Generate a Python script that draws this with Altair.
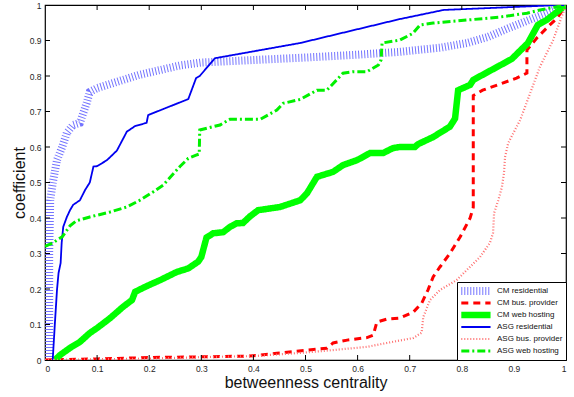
import altair as alt
import pandas as pd

# ---------------- data ----------------
series_names = ["CM residential", "CM bus. provider", "CM web hosting",
                "ASG residential", "ASG bus. provider", "ASG web hosting"]

cm_res_x = [0.008, 0.008, 0.010, 0.015, 0.023, 0.033, 0.042, 0.054, 0.067, 0.080, 0.086, 0.100,
            0.180, 0.260, 0.300, 0.400, 0.500, 0.600, 0.680, 0.760, 0.810, 0.850, 0.890, 0.950, 1.000]
cm_res_y = [0.000, 0.300, 0.450, 0.500, 0.563, 0.600, 0.640, 0.662, 0.668, 0.724, 0.755, 0.766,
            0.803, 0.830, 0.838, 0.845, 0.852, 0.860, 0.868, 0.880, 0.893, 0.910, 0.935, 0.970, 1.000]

cm_bus_x = [0.000, 0.100, 0.200, 0.300, 0.393, 0.445, 0.503, 0.541, 0.553, 0.580, 0.618, 0.630,
            0.637, 0.656, 0.681, 0.707, 0.723, 0.735, 0.745, 0.758, 0.777, 0.797, 0.816, 0.822,
            0.822, 0.840, 0.905, 0.925, 0.925, 0.944, 0.969, 0.983, 1.000]
cm_bus_y = [0.000, 0.003, 0.007, 0.009, 0.011, 0.019, 0.028, 0.033, 0.048, 0.056, 0.063, 0.070,
            0.107, 0.115, 0.118, 0.135, 0.160, 0.197, 0.234, 0.262, 0.300, 0.347, 0.400, 0.430,
            0.745, 0.760, 0.794, 0.808, 0.873, 0.907, 0.944, 0.963, 1.000]

cm_web_x = [0.019, 0.029, 0.048, 0.067, 0.086, 0.100, 0.125, 0.150, 0.167, 0.173, 0.195, 0.221,
            0.253, 0.275, 0.294, 0.300, 0.310, 0.323, 0.342, 0.355, 0.368, 0.380, 0.393, 0.409,
            0.451, 0.490, 0.503, 0.522, 0.553, 0.572, 0.599, 0.624, 0.649, 0.668, 0.681, 0.710,
            0.716, 0.745, 0.758, 0.777, 0.787, 0.790, 0.793, 0.816, 0.822, 0.896, 0.927, 0.946,
            0.963, 1.000]
cm_web_y = [0.000, 0.014, 0.034, 0.051, 0.076, 0.090, 0.118, 0.150, 0.169, 0.192, 0.208, 0.225,
            0.248, 0.258, 0.277, 0.290, 0.345, 0.357, 0.360, 0.375, 0.385, 0.386, 0.404, 0.422,
            0.431, 0.450, 0.470, 0.516, 0.530, 0.549, 0.563, 0.583, 0.583, 0.597, 0.600, 0.600,
            0.608, 0.628, 0.640, 0.657, 0.680, 0.720, 0.760, 0.775, 0.789, 0.848, 0.893, 0.944,
            0.958, 1.000]

asg_res_x = [0.013, 0.015, 0.019, 0.023, 0.026, 0.030, 0.032, 0.035, 0.042, 0.048, 0.054, 0.067,
             0.077, 0.086, 0.093, 0.100, 0.119, 0.138, 0.157, 0.173, 0.195, 0.198, 0.275, 0.290,
             0.297, 0.326, 0.490, 0.680, 0.765, 0.990, 1.000]
asg_res_y = [0.000, 0.005, 0.104, 0.197, 0.245, 0.273, 0.330, 0.375, 0.403, 0.422, 0.437, 0.450,
             0.479, 0.500, 0.545, 0.546, 0.563, 0.590, 0.643, 0.659, 0.668, 0.690, 0.735, 0.794,
             0.800, 0.850, 0.893, 0.960, 0.986, 1.000, 1.000]

asg_bus_x = [0.000, 0.200, 0.300, 0.400, 0.490, 0.553, 0.618, 0.656, 0.707, 0.723, 0.726, 0.739,
             0.758, 0.790, 0.810, 0.835, 0.854, 0.860, 0.862, 0.870, 0.877, 0.881, 0.883, 0.889,
             0.912, 0.925, 0.950, 0.975, 1.000]
asg_bus_y = [0.000, 0.004, 0.008, 0.011, 0.020, 0.028, 0.037, 0.048, 0.062, 0.077, 0.121, 0.169,
             0.197, 0.225, 0.254, 0.290, 0.330, 0.358, 0.414, 0.450, 0.487, 0.527, 0.572, 0.611,
             0.676, 0.727, 0.826, 0.900, 1.000]

asg_web_x = [0.000, 0.015, 0.033, 0.048, 0.060, 0.086, 0.106, 0.125, 0.157, 0.182, 0.208, 0.227,
             0.259, 0.275, 0.290, 0.296, 0.297, 0.336, 0.355, 0.413, 0.445, 0.457, 0.490, 0.522,
             0.541, 0.572, 0.591, 0.618, 0.640, 0.645, 0.647, 0.681, 0.706, 0.720, 0.745, 0.873,
             0.925, 0.950, 1.000]
asg_web_y = [0.320, 0.330, 0.347, 0.378, 0.392, 0.403, 0.410, 0.417, 0.431, 0.450, 0.474, 0.493,
             0.545, 0.568, 0.577, 0.580, 0.648, 0.662, 0.678, 0.678, 0.704, 0.723, 0.734, 0.760,
             0.760, 0.808, 0.812, 0.812, 0.831, 0.845, 0.893, 0.901, 0.920, 0.944, 0.949, 0.966,
             0.977, 0.986, 1.000]

tick_values = [0.0, 0.1, 0.2, 0.3, 0.4, 0.5, 0.6, 0.7, 0.8, 0.9, 1.0]

# ---------------- build table ----------------
series_xy = [(cm_res_x, cm_res_y), (cm_bus_x, cm_bus_y), (cm_web_x, cm_web_y),
             (asg_res_x, asg_res_y), (asg_bus_x, asg_bus_y), (asg_web_x, asg_web_y)]
rows = []
for name, (xs, ys) in zip(series_names, series_xy):
    for i, (xv, yv) in enumerate(zip(xs, ys)):
        rows.append({"series": name, "x": xv, "y": yv, "i": i})
df = pd.DataFrame(rows)
ticks_df = pd.DataFrame({"t": tick_values[1:-1]})

# ---------------- styles ----------------
colors = ["#7474ff", "#ff0000", "#00ff00", "#0000f0", "#ff7070", "#00f000"]
dashes = [[1, 2], [7, 5], [1, 0], [1, 0], [1, 2], [8, 3, 2, 3]]
widths = [8, 3, 6.5, 1.8, 2.2, 3]

W, H = 521, 355
FONT = "Liberation Sans"

x_scale = alt.Scale(domain=[0, 1], nice=False, zero=False)
y_scale = alt.Scale(domain=[0, 1], nice=False, zero=False)

x_axis = alt.Axis(title="betweenness centrality", values=tick_values, format=".1~f",
                  ticks=False, domain=False, grid=False, labelPadding=4,
                  labelFontSize=8.5, labelColor="#262626", labelFont=FONT,
                  titleFont=FONT, titleFontSize=16, titleFontWeight="normal",
                  titleColor="#111", titlePadding=2)
y_axis = alt.Axis(title="coefficient", values=tick_values, format=".1~f",
                  ticks=False, domain=False, grid=False, labelPadding=4,
                  labelFontSize=8.5, labelColor="#262626", labelFont=FONT,
                  titleFont=FONT, titleFontSize=16, titleFontWeight="normal",
                  titleColor="#111", titlePadding=2)

legend = alt.Legend(title=None, orient="bottom-right", offset=0,
                    strokeColor="black", fillColor="white", padding=3,
                    labelFont=FONT, labelFontSize=8, labelColor="#111",
                    symbolType="M-1.6,0L4.9,0", symbolSize=81,
                    labelOffset=20, rowPadding=0, clipHeight=12, cornerRadius=0)

lines = alt.Chart(df).mark_line(clip=True, strokeCap="butt", strokeJoin="miter").encode(
    x=alt.X("x:Q", scale=x_scale, axis=x_axis),
    y=alt.Y("y:Q", scale=y_scale, axis=y_axis),
    color=alt.Color("series:N", scale=alt.Scale(type="ordinal", domain=series_names, range=colors), legend=legend),
    strokeDash=alt.StrokeDash("series:N", scale=alt.Scale(type="ordinal", domain=series_names, range=dashes), legend=legend),
    strokeWidth=alt.StrokeWidth("series:N", scale=alt.Scale(type="ordinal", domain=series_names, range=widths), legend=legend),
    order=alt.Order("i:Q"),
)

tick_bottom = alt.Chart(ticks_df).mark_rule(color="black", strokeWidth=1).encode(
    x=alt.X("t:Q", scale=x_scale, axis=x_axis), y=alt.value(H), y2=alt.value(H - 5))
tick_top = alt.Chart(ticks_df).mark_rule(color="black", strokeWidth=1).encode(
    x=alt.X("t:Q", scale=x_scale, axis=x_axis), y=alt.value(0), y2=alt.value(5))
tick_left = alt.Chart(ticks_df).mark_rule(color="black", strokeWidth=1).encode(
    y=alt.Y("t:Q", scale=y_scale, axis=y_axis), x=alt.value(0), x2=alt.value(5))
tick_right = alt.Chart(ticks_df).mark_rule(color="black", strokeWidth=1).encode(
    y=alt.Y("t:Q", scale=y_scale, axis=y_axis), x=alt.value(W), x2=alt.value(W - 5))

chart = alt.layer(lines, tick_bottom, tick_top, tick_left, tick_right).properties(
    width=W, height=H,
    autosize=alt.AutoSizeParams(type="none"),
    padding={"left": 45, "top": 5, "right": 8, "bottom": 37},
    background="white",
).configure_view(stroke="black", strokeWidth=1.2)

chart.save("out.html", embed_options={"renderer": "svg", "actions": False})
